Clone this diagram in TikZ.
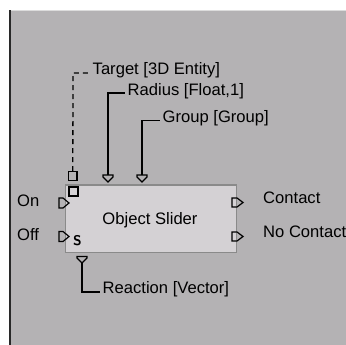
\documentclass[tikz,border=0pt]{standalone}
\usepackage{fontspec}
\setmainfont{Liberation Sans}
\definecolor{bggray}{RGB}{180,178,180}
\definecolor{boxgray}{RGB}{212,209,212}
\definecolor{boxline}{RGB}{138,138,138}
\definecolor{darkedge}{RGB}{40,40,40}
\definecolor{lightedge}{RGB}{220,220,220}
\begin{document}
\begin{tikzpicture}[x=1pt,y=-1pt,
  lbl/.style={font=\fontsize{16.6}{18}\selectfont, inner sep=0pt, anchor=base west, text=black},
  wire/.style={line width=1.3pt, draw=black},
  dwire/.style={line width=1.3pt, draw=black, dash pattern=on 5pt off 4pt},
  pinline/.style={line width=1.2pt, draw=black, line join=miter}]
\useasboundingbox (0,0) rectangle (346,345);
% background
\fill[white] (0,0) rectangle (346,345);
\fill[bggray] (11,11) rectangle (346,345);
\fill[darkedge] (9,10) rectangle (11,345);
\fill[lightedge] (11,10) rectangle (346,11);
% block
\node[draw=boxline, fill=boxgray, line width=1.3pt, minimum width=171pt, minimum height=67pt,
      anchor=north west, inner sep=0pt] (box) at (65,184.5) {};
\node[lbl, anchor=base] (title) at (150,224) {Object Slider};
% inputs
\coordinate (onpin) at (59,203);
\coordinate (offpin) at (59,236.5);
\draw[pinline] (onpin) ++(0,-5) -- ++(4,0) -- ++(6,5) -- ++(-6,5) -- ++(-4,0) -- cycle;
\draw[pinline] (offpin) ++(0,-5) -- ++(4,0) -- ++(6,5) -- ++(-6,5) -- ++(-4,0) -- cycle;
\node[lbl] (on) at (17,207) {On};
\node[lbl] (off) at (17,240.5) {Off};
\node[font=\sffamily\bfseries\fontsize{14}{14}\selectfont, inner sep=0pt, anchor=base] (s) at (77.5,245) {S};
% outputs
\coordinate (cpin) at (232,202.5);
\coordinate (ncpin) at (232,236.5);
\draw[pinline] (cpin) ++(0,-4.5) -- ++(5,0) -- ++(6,4.5) -- ++(-6,4.5) -- ++(-5,0) -- cycle;
\draw[pinline] (ncpin) ++(0,-4.5) -- ++(5,0) -- ++(6,4.5) -- ++(-6,4.5) -- ++(-5,0) -- cycle;
\node[lbl] (contact) at (263,203.3) {Contact};
\node[lbl] (nocontact) at (263,237.3) {No Contact};
% target (object parameter)
\node[draw=black, line width=1.2pt, minimum size=8.5pt, inner sep=0pt] (tsq) at (72.8,176) {};
\node[draw=black, line width=1.2pt, minimum size=9pt, inner sep=0pt] (isq) at (73.5,191.5) {};
\coordinate (tcorner) at (73,73);
\coordinate (tend) at (88,73);
\draw[dwire] (tsq.north) -- (tcorner) -- (tend);
\node[lbl] (target) at (92.5,74.5) {Target [3D Entity]};
% radius
\coordinate (rpin) at (108,175);
\draw[pinline] (rpin) ++(-5,0) -- ++(10,0) -- ++(0,2) -- ++(-5,5) -- ++(-5,-5) -- cycle;
\coordinate (rcorner) at (108,93);
\coordinate (rend) at (125,93);
\draw[wire] (rpin) -- (rcorner) -- (rend);
\node[lbl] (radius) at (127.5,95.7) {Radius [Float,1]};
% group
\coordinate (gpin) at (142,175);
\draw[pinline] (gpin) ++(-5,0) -- ++(10,0) -- ++(0,2) -- ++(-5,5) -- ++(-5,-5) -- cycle;
\coordinate (gcorner) at (142,120.7);
\coordinate (gend) at (160,120.7);
\draw[wire] (gpin) -- (gcorner) -- (gend);
\node[lbl] (group) at (162.5,122.5) {Group [Group]};
% reaction (output parameter)
\coordinate (xpin) at (82,256.5);
\draw[pinline] (xpin) ++(-5,0) -- ++(10,0) -- ++(0,1.5) -- ++(-5,5) -- ++(-5,-5) -- cycle;
\coordinate (xtop) at (82,263);
\coordinate (xcorner) at (82,292);
\coordinate (xend) at (100,292);
\draw[wire] (xtop) -- (xcorner) -- (xend);
\node[lbl] (reaction) at (102.5,293) {Reaction [Vector]};
\end{tikzpicture}
\end{document}
